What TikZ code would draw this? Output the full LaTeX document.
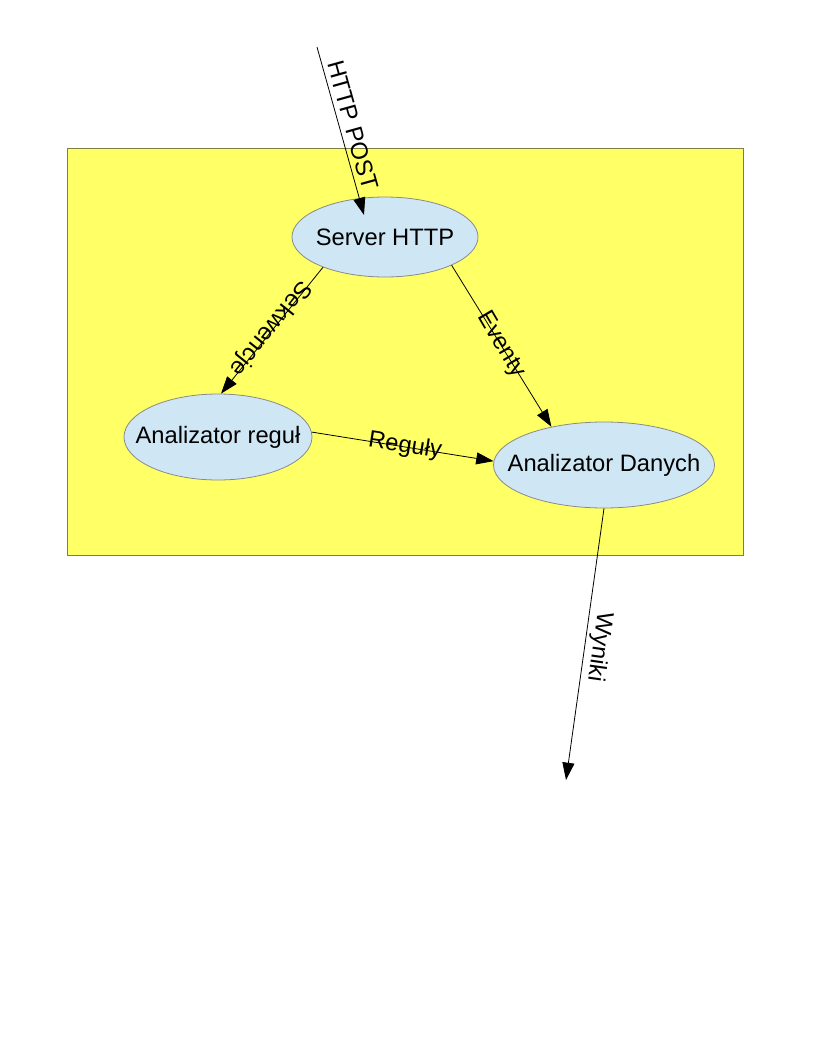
\documentclass[tikz,border=0pt]{standalone}
\usepackage{fontspec}
\setmainfont{Liberation Sans}
\usetikzlibrary{arrows.meta,shapes.geometric}
\definecolor{bgyellow}{HTML}{FFFF66}
\definecolor{frameol}{HTML}{7F7F40}
\definecolor{ellblue}{HTML}{CFE7F5}
\definecolor{ellline}{HTML}{8A8A8A}
\tikzset{
  proc/.style={ellipse, draw=ellline, fill=ellblue, line width=0.6pt, inner sep=0pt,
    minimum width=#1, font=\fontsize{17.8}{20}\selectfont},
  flow/.style={draw=black, line width=0.6pt, -{Triangle[length=13pt,width=9pt]}},
  lbl/.style={font=\fontsize{17.8}{20}\selectfont, inner sep=0pt}
}
\begin{document}
\begin{tikzpicture}[x=0.75pt,y=-0.75pt]
\useasboundingbox (0,0) rectangle (816,1056);
\node[draw=frameol, fill=bgyellow, line width=0.6pt, minimum width=676*0.75pt, minimum height=407*0.75pt, inner sep=0pt] (box) at (405,351.5) {};
\node[proc=186*0.75pt, minimum height=80*0.75pt] (srv) at (385,237) {\makebox[0pt]{Server HTTP}};
\node[proc=188*0.75pt, minimum height=86*0.75pt] (ar) at (218,437) {\makebox[0pt]{Analizator reguł}};
\node[proc=221*0.75pt, minimum height=86*0.75pt] (ad) at (604,465) {\makebox[0pt]{Analizator Danych}};
\coordinate (httpStart) at (317,47);
\coordinate (httpEnd) at (364,215);
\coordinate (outEnd) at (566,780);
\draw[flow] (httpStart) -- (httpEnd);
\draw[flow] (srv.206) -- (ar.86);
\draw[flow] (srv.337.7) -- (ad.144);
\draw[flow] (ar.3) -- (ad.178);
\draw[flow] (ad.270) -- (outEnd);
\node[lbl, rotate=-74.4] (lHttp) at (353,125) {HTTP POST};
\node[lbl, rotate=231.3] (lSek) at (270,328) {Sekwencje};
\node[lbl, rotate=-59.6] (lEv) at (501,345) {Eventy};
\node[lbl, rotate=-8.9] (lReg) at (405,446) {Reguły};
\node[lbl, rotate=-98] (lWyn) at (599,647) {Wyniki};
\end{tikzpicture}
\end{document}
